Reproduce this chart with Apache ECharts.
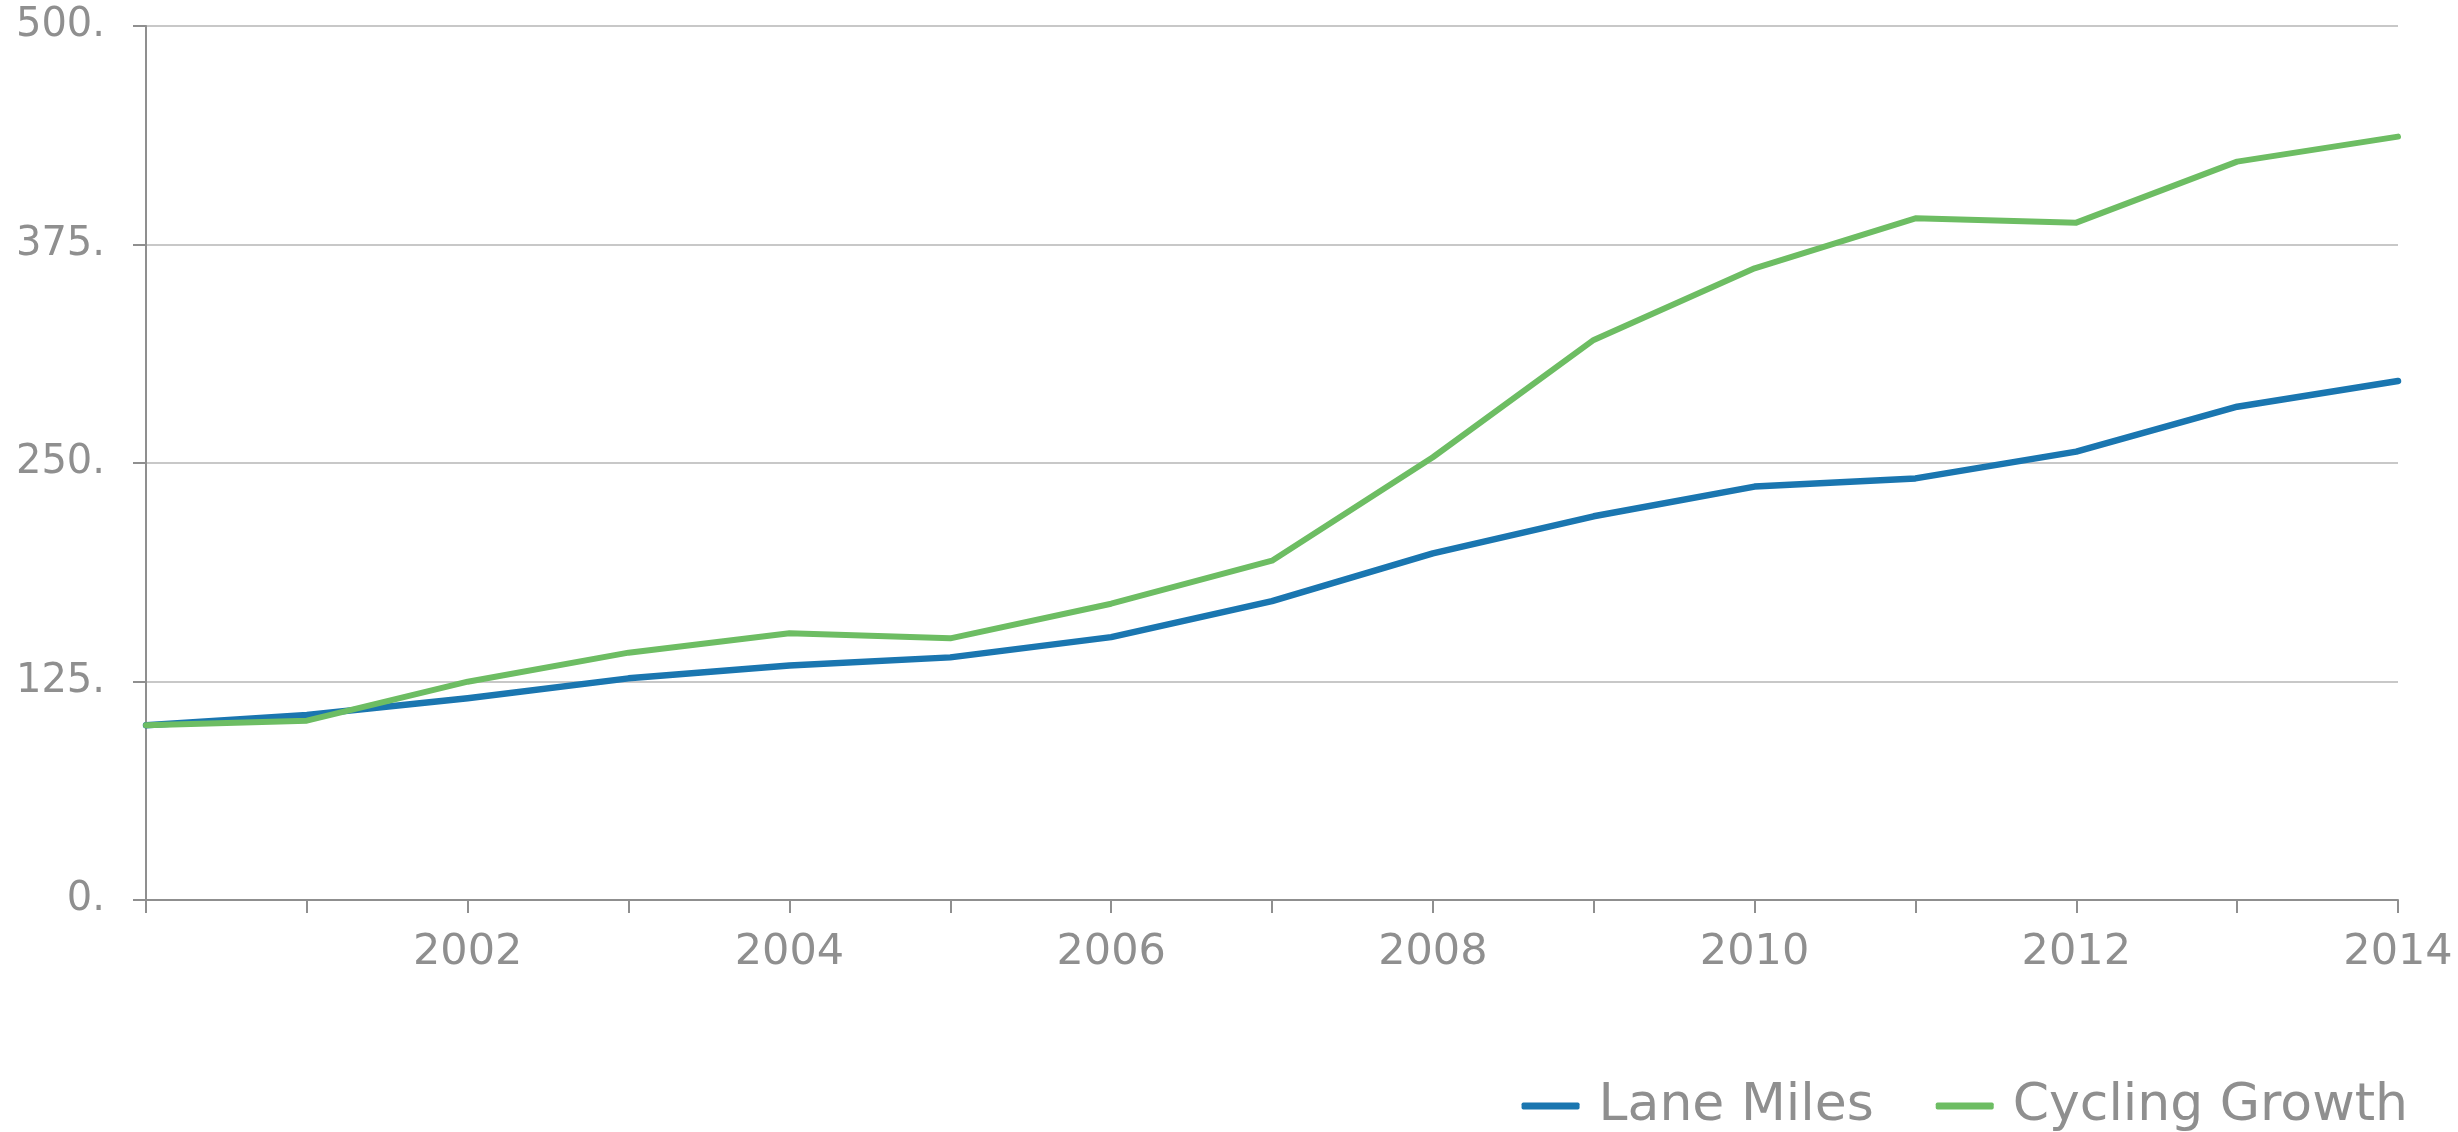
<!DOCTYPE html>
<html>
<head>
<meta charset="utf-8">
<title>Lane Miles vs Cycling Growth</title>
<script src="https://cdn.jsdelivr.net/npm/echarts@6/dist/echarts.min.js"></script>
<style>
  html, body { margin: 0; padding: 0; background: #ffffff; }
  #chart { width: 2458px; height: 1132px; }
</style>
</head>
<body>
<div id="chart"></div>
<script>
// Index values (2000 = 100)
const years = ['2000', '2001', '2002', '2003', '2004', '2005', '2006', '2007',
               '2008', '2009', '2010', '2011', '2012', '2013', '2014'];
const laneMiles = [100, 105.8, 115.4, 126.8, 134.1, 138.8, 150.4, 171.0,
                   198.3, 219.5, 236.5, 241.2, 256.5, 282.2, 296.9];
const cyclingGrowth = [100, 102.6, 124.9, 141.5, 152.6, 149.7, 169.5, 194.1,
                       253.3, 320.4, 361.4, 390.0, 387.5, 422.4, 436.7];
const yTicks = [0, 125, 250, 375, 500];

const axisGray = '#8f8f8f';
const gridGray = '#c8c8c8';
const textGray = '#8f8f8f';
const fontFamily = '"DejaVu Sans", sans-serif';

const chart = echarts.init(document.getElementById('chart'), null, { renderer: 'canvas' });

chart.setOption({
  animation: false,
  backgroundColor: '#ffffff',
  grid: { left: 146, right: 60, top: 26, bottom: 232, containLabel: false },
  legend: {
    data: ['Lane Miles', 'Cycling Growth'],
    right: 50,
    top: 1080,
    padding: 0,
    itemGap: 62,
    itemWidth: 58,
    itemHeight: 7,
    icon: 'roundRect',
    textStyle: {
      color: textGray,
      fontFamily: fontFamily,
      fontSize: 52,
      padding: [0, 0, 0, 14]
    }
  },
  xAxis: {
    type: 'category',
    data: years,
    boundaryGap: false,
    axisLine: { lineStyle: { color: axisGray, width: 2 } },
    axisTick: { show: true, interval: 0, length: 13, lineStyle: { color: axisGray, width: 2 } },
    axisLabel: {
      interval: 0,
      margin: 31,
      color: textGray,
      fontFamily: fontFamily,
      fontSize: 43,
      formatter: function (v, i) {
        return (i > 0 && i % 2 === 0) ? v : '';
      }
    },
    splitLine: { show: false }
  },
  yAxis: {
    type: 'value',
    min: yTicks[0],
    max: yTicks[yTicks.length - 1],
    interval: yTicks[1] - yTicks[0],
    axisLine: { show: true, lineStyle: { color: axisGray, width: 2 } },
    axisTick: { show: true, length: 13, lineStyle: { color: axisGray, width: 2 } },
    axisLabel: {
      margin: 41,
      color: textGray,
      fontFamily: fontFamily,
      fontSize: 40,
      formatter: function (v) { return v + '.'; }
    },
    splitLine: { show: true, lineStyle: { color: gridGray, width: 2 } }
  },
  series: [
    {
      name: 'Lane Miles',
      type: 'line',
      data: laneMiles,
      symbol: 'none',
      color: '#1a76b0',
      lineStyle: { color: '#1a76b0', width: 6.5, cap: 'round', join: 'round' }
    },
    {
      name: 'Cycling Growth',
      type: 'line',
      data: cyclingGrowth,
      symbol: 'none',
      color: '#6dbd63',
      lineStyle: { color: '#6dbd63', width: 6, cap: 'round', join: 'round' }
    }
  ]
});
</script>
</body>
</html>
